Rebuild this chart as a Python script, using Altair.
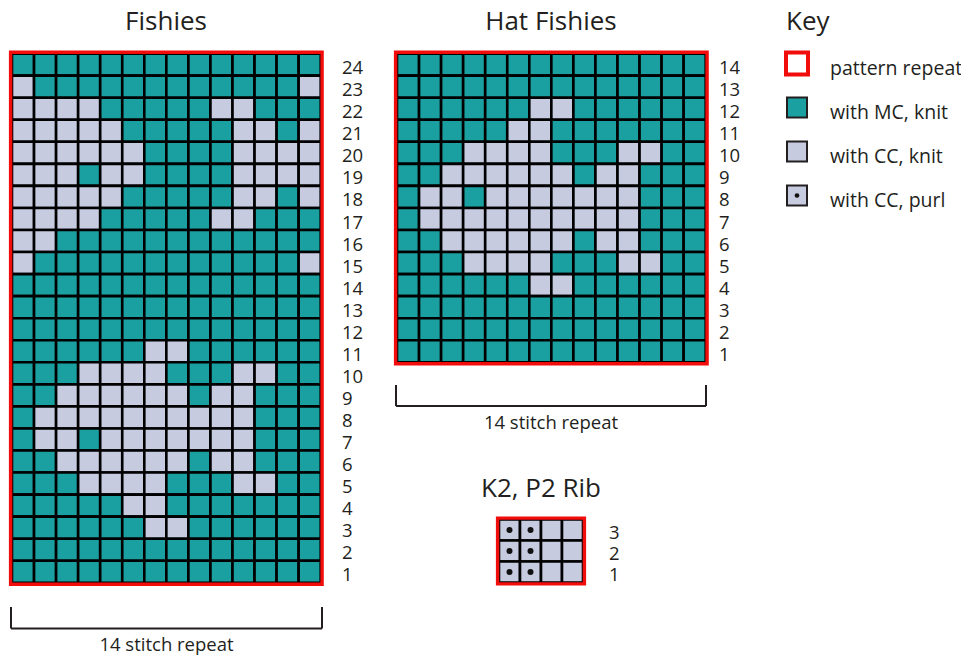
import altair as alt
import pandas as pd

# ---------------- data ----------------
# rows listed top (highest row number) to bottom (row 1); M = with MC knit, C = with CC knit
FISHIES = [
    "MMMMMMMMMMMMMM",  # 24
    "CMMMMMMMMMMMMC",  # 23
    "CCCCMMMMMCCMMM",  # 22
    "CCCCCMMMMMCCMC",  # 21
    "CCCCCCMMMMCCCC",  # 20
    "CCCMCCMMMMCCCC",  # 19
    "CCCCCMMMMMCCMC",  # 18
    "CCCCMMMMMCCMMM",  # 17
    "CCMMMMMMMMMMMM",  # 16
    "CMMMMMMMMMMMMC",  # 15
    "MMMMMMMMMMMMMM",  # 14
    "MMMMMMMMMMMMMM",  # 13
    "MMMMMMMMMMMMMM",  # 12
    "MMMMMMCCMMMMMM",  # 11
    "MMMCCCCMMMCCMM",  # 10
    "MMCCCCCCMCCMMM",  # 9
    "MCCCCCCCCCCMMM",  # 8
    "MCCMCCCCCCCMMM",  # 7
    "MMCCCCCCMCCMMM",  # 6
    "MMMCCCCMMMCCMM",  # 5
    "MMMMMCCMMMMMMM",  # 4
    "MMMMMMCCMMMMMM",  # 3
    "MMMMMMMMMMMMMM",  # 2
    "MMMMMMMMMMMMMM",  # 1
]
HAT_FISHIES = [
    "MMMMMMMMMMMMMM",  # 14
    "MMMMMMMMMMMMMM",  # 13
    "MMMMMMCCMMMMMM",  # 12
    "MMMMMCCMMMMMMM",  # 11
    "MMMCCCCMMMCCMM",  # 10
    "MMCCCCCCMCCMMM",  # 9
    "MCCMCCCCCCCMMM",  # 8
    "MCCCCCCCCCCMMM",  # 7
    "MMCCCCCCMCCMMM",  # 6
    "MMMCCCCMMMCCMM",  # 5
    "MMMMMMCCMMMMMM",  # 4
    "MMMMMMMMMMMMMM",  # 3
    "MMMMMMMMMMMMMM",  # 2
    "MMMMMMMMMMMMMM",  # 1
]
# P = with CC purl, K = with CC knit
RIB = [
    "PPKK",  # 3
    "PPKK",  # 2
    "PPKK",  # 1
]
TITLES = ["Fishies", "Hat Fishies", "K2, P2 Rib"]
REPEAT_LABEL = "14 stitch repeat"
KEY_TITLE = "Key"
KEY_LABELS = ["pattern repeat", "with MC, knit", "with CC, knit", "with CC, purl"]
KEY_KINDS = ["repeat", "MC", "CC", "purl"]

# ---------------- style / layout ----------------
TEAL = "#1ba0a1"
LIGHT = "#c6cbe0"
RED = "#f20d0d"
INK = "#231f20"
FONT = "Open Sans"

# grid origins (top-left) and cell pitch, in page pixels
GRIDS = [
    dict(name="Fishies", rows=FISHIES, x0=12.0, y0=53.6, p=22.05, lx=342, tx=166, ty=30),
    dict(name="Hat Fishies", rows=HAT_FISHIES, x0=397.0, y0=53.6, p=22.05, lx=719, tx=551, ty=30),
    dict(name="K2, P2 Rib", rows=RIB, x0=499.0, y0=519.5, p=21.0, lx=609, tx=541, ty=497),
]

cells, dots, labels, borders, titles = [], [], [], [], []
for g, title in zip(GRIDS, TITLES):
    n = len(g["rows"])
    p = g["p"]
    for i, row in enumerate(g["rows"]):
        rownum = n - i
        for j, ch in enumerate(row):
            x = g["x0"] + j * p
            y = g["y0"] + i * p
            kind = "MC" if ch == "M" else "CC"
            cells.append(dict(x=x, x2=x + p, y=y, y2=y + p, kind=kind))
            if ch == "P":
                dots.append(dict(x=x + p / 2, y=y + p / 2))
        labels.append(dict(x=g["lx"], y=g["y0"] + (i + 1) * p - 1.5, text=str(rownum)))
    ncol = len(g["rows"][0])
    o = 1.4
    borders.append(dict(x=g["x0"] - o, x2=g["x0"] + ncol * p + o,
                        y=g["y0"] - o, y2=g["y0"] + n * p + o))
    titles.append(dict(x=g["tx"], y=g["ty"], text=title))

cells = pd.DataFrame(cells)
dots = pd.DataFrame(dots)
labels = pd.DataFrame(labels)
borders = pd.DataFrame(borders)
titles = pd.DataFrame(titles)

# repeat brackets
brackets = [dict(x0=11, x1=322, ytop=607, ybar=628.5, tx=166.5, ty=651),
            dict(x0=396, x1=706, ytop=385, ybar=406, tx=551, ty=429)]
segs, btext = [], []
for b in brackets:
    segs.append(dict(x=b["x0"], x2=b["x0"], y=b["ytop"], y2=b["ybar"]))
    segs.append(dict(x=b["x1"], x2=b["x1"], y=b["ytop"], y2=b["ybar"]))
    segs.append(dict(x=b["x0"], x2=b["x1"], y=b["ybar"], y2=b["ybar"]))
    btext.append(dict(x=b["tx"], y=b["ty"], text=REPEAT_LABEL))
segs = pd.DataFrame(segs)
btext = pd.DataFrame(btext)

# key
KEY_X, KEY_Y0, KEY_DY, KEY_S = 797.0, 63.5, 44.0, 22.0
key_sw, key_red, key_dot, key_txt = [], [], [], []
for k, (lab, kind) in enumerate(zip(KEY_LABELS, KEY_KINDS)):
    cy = KEY_Y0 + k * KEY_DY
    if kind == "repeat":
        key_red.append(dict(x=KEY_X - KEY_S / 2, x2=KEY_X + KEY_S / 2, y=cy - KEY_S / 2, y2=cy + KEY_S / 2))
    else:
        key_sw.append(dict(x=KEY_X - KEY_S / 2 + 1, x2=KEY_X + KEY_S / 2 - 1,
                           y=cy - KEY_S / 2 + 1, y2=cy + KEY_S / 2 - 1,
                           kind="MC" if kind == "MC" else "CC"))
    if kind == "purl":
        key_dot.append(dict(x=KEY_X, y=cy))
    key_txt.append(dict(x=830, y=cy + 11.5, text=lab))
key_sw = pd.DataFrame(key_sw)
key_red = pd.DataFrame(key_red)
key_dot = pd.DataFrame(key_dot)
key_txt = pd.DataFrame(key_txt)
key_title = pd.DataFrame([dict(x=786, y=30, text=KEY_TITLE)])

# ---------------- chart ----------------
W, H = 953, 649
XS = alt.Scale(domain=[8, 8 + W], nice=False, zero=False)
YS = alt.Scale(domain=[8, 8 + H], nice=False, zero=False, reverse=True)
X = lambda f="x": alt.X(f"{f}:Q", scale=XS, axis=None)
Y = lambda f="y": alt.Y(f"{f}:Q", scale=YS, axis=None)
COLOR = alt.Color("kind:N", scale=alt.Scale(domain=["MC", "CC"], range=[TEAL, LIGHT]), legend=None)


def rects(df, **kw):
    return alt.Chart(df).mark_rect(**kw).encode(x=X(), x2=alt.X2("x2:Q"), y=Y(), y2=alt.Y2("y2:Q"))


def texts(df, size, align="left"):
    return alt.Chart(df).mark_text(align=align, baseline="alphabetic", font=FONT,
                                   fontSize=size, color=INK).encode(x=X(), y=Y(), text="text:N")


layers = [
    rects(cells, stroke="black", strokeWidth=2.6).encode(color=COLOR),
    rects(borders, fillOpacity=0, fill="white", stroke=RED, strokeWidth=3.4),
    alt.Chart(dots).mark_circle(color="#111111", size=36, opacity=1).encode(x=X(), y=Y()),
    texts(labels, 18.5),
    texts(titles, 26, align="center"),
    alt.Chart(segs).mark_rule(color=INK, strokeWidth=2).encode(x=X(), x2=alt.X2("x2:Q"), y=Y(), y2=alt.Y2("y2:Q")),
    texts(btext, 18.5, align="center"),
    rects(key_sw, stroke="#231f20", strokeWidth=2).encode(color=COLOR),
    rects(key_red, fillOpacity=0, fill="white", stroke=RED, strokeWidth=4),
    alt.Chart(key_dot).mark_circle(color="#111111", size=22, opacity=1).encode(x=X(), y=Y()),
    texts(key_txt, 19.5),
    texts(key_title, 26),
]

chart = alt.layer(*layers).properties(
    width=W, height=H, autosize=alt.AutoSizeParams(type="none"), padding=0, background="white"
).configure_view(stroke=None)

chart.save("out.html", embed_options={"renderer": "svg", "actions": False})
